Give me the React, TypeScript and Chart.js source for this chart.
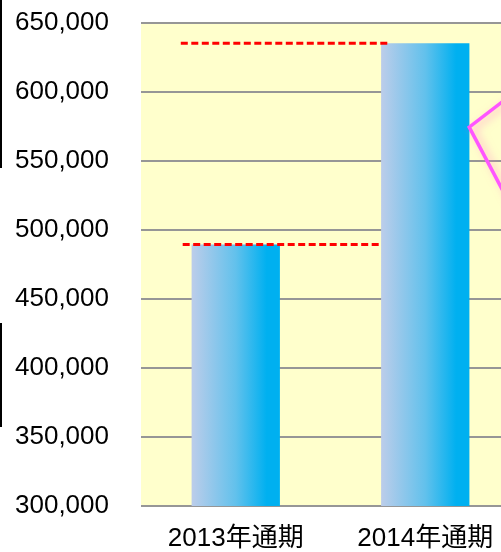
import React, { useEffect, useRef } from "react";
import { Chart, registerables } from "chart.js";

Chart.register(...registerables);

// ---- data ----
const categories = ["2013年通期", "2014年通期"];
const salesValues = [489500, 635300];

const yMin = 300000;
const yMax = 650000;
const yStep = 50000;

// red dashed reference lines (value level, start/end on category index axis)
const refLineValues = [635300, 489500];
const refLineStarts = [-0.29, -0.28];
const refLineEnds = [0.8, 0.77];

// pink callout outline (category index position, value)
const calloutX = [1.55, 1.232, 1.55];
const calloutY = [608000, 574500, 492000];

const BAR_FRACTION = 0.466;
const FONT = '"Liberation Sans", Arial, "Noto Sans CJK JP", sans-serif';

const plotBgPlugin = {
  id: "plotBg",
  beforeDraw(chart: any) {
    const { ctx, chartArea: a } = chart;
    ctx.save();
    ctx.fillStyle = "#FFFFCC";
    ctx.fillRect(a.left, a.top, a.right - a.left, a.bottom - a.top);
    ctx.restore();
  },
};

const overlayPlugin = {
  id: "overlay",
  afterDatasetsDraw(chart: any) {
    const { ctx } = chart;
    const xs = chart.scales.x;
    const ys = chart.scales.y;
    ctx.save();
    // red dashed lines
    ctx.strokeStyle = "#FF0000";
    ctx.lineWidth = 3;
    ctx.setLineDash([7, 3.5]);
    refLineValues.forEach((v, i) => {
      const y = ys.getPixelForValue(v);
      ctx.beginPath();
      ctx.moveTo(xs.getPixelForValue(refLineStarts[i]), y);
      ctx.lineTo(xs.getPixelForValue(refLineEnds[i]), y);
      ctx.stroke();
    });
    ctx.setLineDash([]);
    // pink callout
    ctx.strokeStyle = "#FF55FF";
    ctx.lineWidth = 3.5;
    ctx.lineJoin = "miter";
    ctx.shadowColor = "rgba(255,120,200,0.55)";
    ctx.shadowBlur = 8;
    ctx.shadowOffsetX = 4;
    ctx.shadowOffsetY = 2;
    ctx.beginPath();
    calloutX.forEach((cx, i) => {
      const px = xs.getPixelForValue(cx);
      const py = ys.getPixelForValue(calloutY[i]);
      if (i === 0) ctx.moveTo(px, py);
      else ctx.lineTo(px, py);
    });
    ctx.stroke();
    ctx.restore();
  },
};

export default function App() {
  const canvasRef = useRef<HTMLCanvasElement | null>(null);

  useEffect(() => {
    if (!canvasRef.current) return;
    const chart = new Chart(canvasRef.current, {
      type: "bar",
      data: {
        labels: categories,
        datasets: [
          {
            data: salesValues,
            borderWidth: 0,
            categoryPercentage: 1,
            barPercentage: BAR_FRACTION,
            backgroundColor: (c: any) => {
              const ch = c.chart;
              const xs = ch.scales && ch.scales.x;
              if (!xs || c.dataIndex == null) return "#00B0F0";
              const center = xs.getPixelForValue(c.dataIndex);
              const half = ((xs.right - xs.left) / categories.length) * BAR_FRACTION / 2;
              if (!isFinite(center) || !isFinite(half) || half <= 0) return "#00B0F0";
              const g = ch.ctx.createLinearGradient(center - half, 0, center + half, 0);
              g.addColorStop(0, "#BCCDEA");
              g.addColorStop(0.5, "#62C1EC");
              g.addColorStop(0.85, "#00B0F0");
              g.addColorStop(1, "#00B0F0");
              return g;
            },
          },
        ],
      },
      options: {
        animation: false,
        responsive: false,
        devicePixelRatio: 1,
        layout: { padding: { left: 15, top: 23, right: 5, bottom: 0 } },
        plugins: {
          legend: { display: false },
          tooltip: { enabled: false },
        },
        scales: {
          x: {
            grid: { display: false, drawTicks: false },
            border: { display: false },
            ticks: {
              color: "#000",
              padding: 17,
              font: { family: FONT, size: 26 },
            },
            afterFit: (s: any) => {
              s.height = 46;
              s.paddingLeft = 0;
              s.paddingRight = 0;
            },
          },
          y: {
            min: yMin,
            max: yMax,
            grid: { color: "#969696", lineWidth: 2, drawTicks: false },
            border: { display: false },
            ticks: {
              stepSize: yStep,
              color: "#000",
              padding: 32,
              font: { family: FONT, size: 26 },
              callback: (v: any) => Number(v).toLocaleString("en-US"),
            },
            afterFit: (s: any) => {
              s.width = 126;
              s.paddingTop = 0;
              s.paddingBottom = 0;
            },
          },
        },
      },
      plugins: [plotBgPlugin, overlayPlugin],
    });
    return () => chart.destroy();
  }, []);

  return (
    <div
      style={{
        position: "absolute",
        left: 0,
        top: 0,
        width: 501,
        height: 552,
        overflow: "hidden",
        background: "#fff",
      }}
    >
      <canvas ref={canvasRef} width={525} height={552} style={{ display: "block" }} />
      <div style={{ position: "absolute", left: 0, top: 0, width: 1.5, height: 168, background: "#000" }} />
      <div style={{ position: "absolute", left: 0, top: 323, width: 1.5, height: 104, background: "#000" }} />
    </div>
  );
}
